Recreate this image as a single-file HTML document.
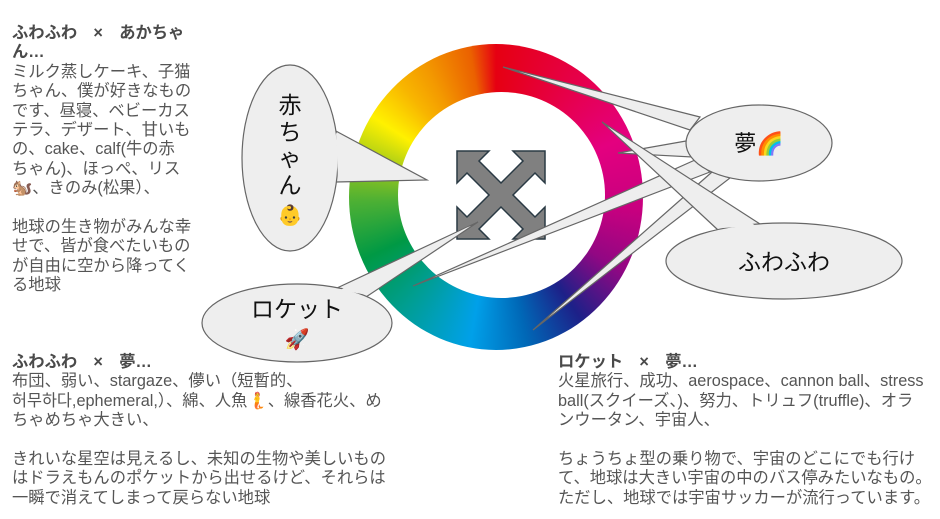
<!DOCTYPE html>
<html><head><meta charset="utf-8"><style>
body{margin:0;width:940px;height:519px;background:#fff;position:relative;overflow:hidden;font-family:"Liberation Sans","Noto Sans CJK JP",sans-serif;}
.t{position:absolute;color:#555;font-size:16.3px;line-height:19.4px;white-space:nowrap;}
.t b{color:#4a4a4a;}
.ring{position:absolute;left:349px;top:44px;width:294px;height:306px;border-radius:50%;
background:conic-gradient(from 0deg,#e60012 0deg,#e6004a 35deg,#e4007f 65deg,#c8007f 95deg,#920783 120deg,#1d2088 145deg,#0068b7 168deg,#00a0e9 190deg,#009e96 218deg,#009944 245deg,#4cb034 268deg,#8fc31f 282deg,#fff100 303deg,#f8b500 320deg,#f39800 332deg,#eb6100 350deg,#e60012 360deg);}
.in{position:absolute;left:398px;top:92px;width:207px;height:206px;border-radius:50%;background:#fff;}
</style></head><body>
<div class="t" style="left:12px;top:24px;"><b>ふわふわ　×　あかちゃ<br>ん…</b><br>ミルク蒸しケーキ、子猫<br>ちゃん、僕が好きなもの<br>です、昼寝、ベビーカス<br>テラ、デザート、甘いも<br>の、cake、calf(牛の赤<br>ちゃん)、ほっぺ、リス<br>🐿️、きのみ(松果）、<br><br>地球の生き物がみんな幸<br>せで、皆が食べたいもの<br>が自由に空から降ってく<br>る地球</div>
<div class="t" style="left:12px;top:353px;"><b>ふわふわ　×　夢…</b><br>布団、弱い、stargaze、儚い（短暫的、<br>허무하다,ephemeral,）、綿、人魚🧜、線香花火、め<br>ちゃめちゃ大きい、<br><br>きれいな星空は見えるし、未知の生物や美しいもの<br>はドラえもんのポケットから出せるけど、それらは<br>一瞬で消えてしまって戻らない地球</div>
<div class="t" style="left:558px;top:353px;"><b>ロケット　×　夢…</b><br>火星旅行、成功、aerospace、cannon ball、stress<br>ball(スクイーズ、)、努力、トリュフ(truffle)、オラ<br>ンウータン、宇宙人、<br><br>ちょうちょ型の乗り物で、宇宙のどこにでも行け<br>て、地球は大きい宇宙の中のバス停みたいなもの。<br>ただし、地球では宇宙サッカーが流行っています。</div>
<div class="ring"></div><div class="in"></div>
<svg width="940" height="519" style="position:absolute;left:0;top:0">
<g transform="translate(501,195)"><polygon fill="#808080" stroke="#2a3a44" stroke-width="1.5" points="0,-12 22,-34 12,-44 44,-44 44,-12 34,-22 12,0 34,22 44,12 44,44 12,44 22,34 0,12 -22,34 -12,44 -44,44 -44,12 -34,22 -12,0 -34,-22 -44,-12 -44,-44 -12,-44 -22,-34"/></g>
<g fill="#eeeeee" stroke="#666" stroke-width="1.2">
<polygon points="334,130 427,180 336,182"/>
<polygon points="700,117 503,67 690,130"/>
<polygon points="686,141 618,153 692,157"/>
<polygon points="695,160 413,286 710,172"/>
<polygon points="712,172 533,330 730,178"/>
<polygon points="718,230 602,122 760,224"/>
<polygon points="337,288 478,222 366,297"/>
<ellipse cx="290" cy="158" rx="48" ry="93"/>
<ellipse cx="759" cy="143" rx="73" ry="38"/>
<ellipse cx="784" cy="261" rx="118" ry="38"/>
<ellipse cx="297" cy="323" rx="95" ry="39"/>
</g>
<g fill="#eeeeee">
<polygon points="336,133 420,178 338,179"/>
<polygon points="340,290 470,226 362,294"/>
<polygon points="722,228 612,130 756,226"/>
</g>
<g font-family="Liberation Sans, Noto Sans CJK JP, sans-serif" fill="#111" font-size="23" text-anchor="middle">
<text x="290" y="113">赤</text><text x="290" y="140">ち</text><text x="290" y="166">ゃ</text><text x="290" y="193">ん</text>
<text x="290" y="222" font-size="20">👶</text>
<text x="759" y="151" font-size="22">夢🌈</text>
<text x="784" y="270" font-size="23">ふわふわ</text>
<text x="297" y="317" font-size="23">ロケット</text>
<text x="297" y="346" font-size="20">🚀</text>
</g>
</svg>
</body></html>
